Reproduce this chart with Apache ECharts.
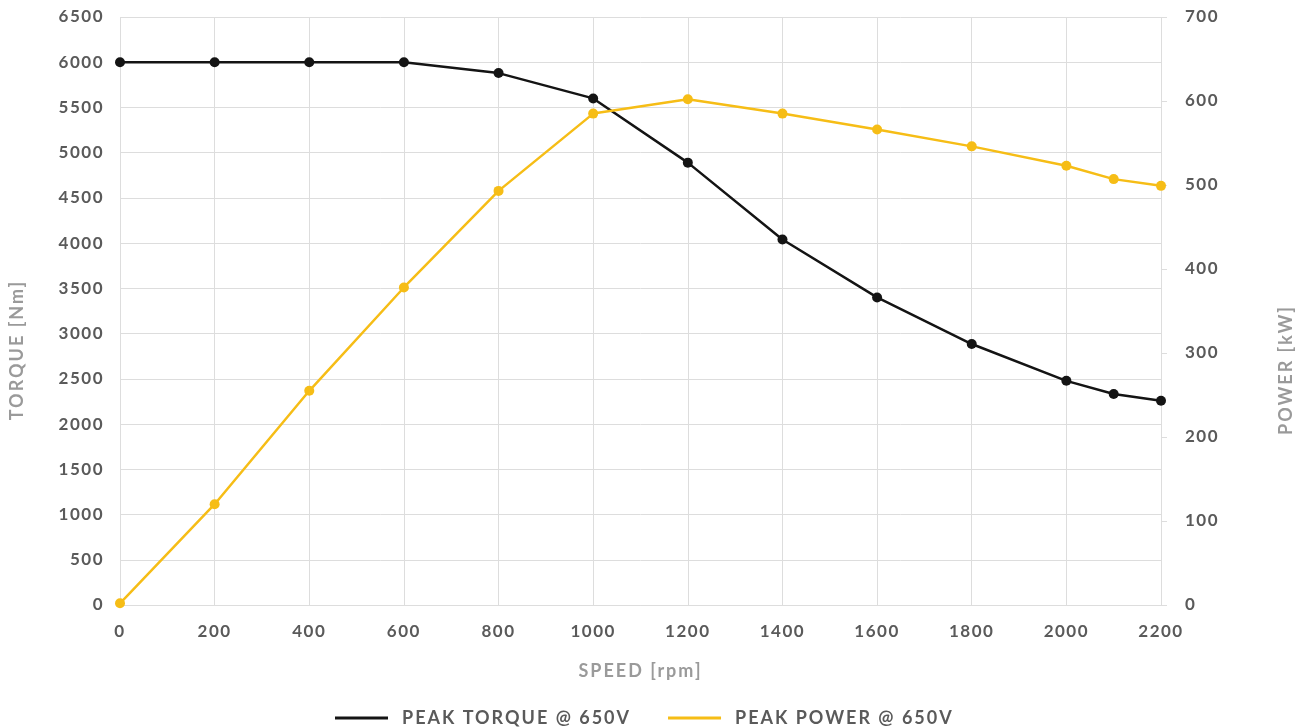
<!DOCTYPE html>
<html><head><meta charset="utf-8">
<script src="https://cdn.jsdelivr.net/npm/echarts@6/dist/echarts.min.js"></script>
<style>html,body{margin:0;padding:0;background:#fff}#c{width:1305px;height:728px}</style>
</head><body><div id="c"></div>
<script>
const speed = [0, 200, 400, 600, 800, 1000, 1200, 1400, 1600, 1800, 2000, 2100, 2200];
const torque = [6000, 6000, 6000, 6000, 5880, 5600, 4890, 4040, 3400, 2885, 2478, 2332, 2257];
const power = [2, 120, 255, 378, 493, 585, 602, 585, 566, 546, 523, 507, 499];
const seriesNames = ['PEAK TORQUE @ 650V', 'PEAK POWER @ 650V'];
const colors = ['#141414', '#f6bd16'];

// letter spacing for canvas text (tracking as in the reference)
(function () {
  const proto = CanvasRenderingContext2D.prototype;
  const desc = Object.getOwnPropertyDescriptor(proto, 'font');
  if (!desc || !('letterSpacing' in proto)) return;
  Object.defineProperty(proto, 'font', {
    configurable: true,
    get() { return desc.get.call(this); },
    set(v) {
      desc.set.call(this, v);
      this.letterSpacing = /18px/.test(v) ? '2px' : (/17px/.test(v) ? '1.5px' : '0px');
    }
  });
})();

const chart = echarts.init(document.getElementById('c'));
const labelStyle = {color: '#5a5a5a', fontFamily: 'Lato', fontWeight: 'bold', fontSize: 17};
const nameStyle = {color: '#9a9a9a', fontFamily: 'Lato', fontWeight: 'bold', fontSize: 18};
chart.setOption({
  animation: false,
  color: colors,
  grid: {left: 120, right: 144, top: 17, bottom: 123, containLabel: false, outerBoundsMode: 'none'},
  legend: {
    top: 703, left: 330, itemWidth: 53, itemHeight: 3, itemGap: 37,
    icon: 'rect',
    textStyle: {color: '#5a5a5a', fontFamily: 'Lato', fontWeight: 'bold', fontSize: 18, padding: [0, 0, 0, 9]},
    data: seriesNames
  },
  xAxis: {
    type: 'value', min: 0, max: 2200, interval: 200,
    name: 'SPEED [rpm]', nameLocation: 'middle', nameGap: 56, nameTextStyle: nameStyle,
    axisLine: {show: true, lineStyle: {color: '#dddddd'}},
    axisTick: {show: false},
    axisLabel: Object.assign({margin: 17, formatter: v => String(v)}, labelStyle),
    splitLine: {show: true, lineStyle: {color: '#dddddd'}}
  },
  yAxis: [{
    type: 'value', min: 0, max: 6500, interval: 500, position: 'left',
    name: 'TORQUE [Nm]', nameLocation: 'middle', nameGap: 93,
    nameTextStyle: Object.assign({padding: [0, 78, 0, 0]}, nameStyle),
    axisLine: {show: false}, axisTick: {show: false},
    axisLabel: Object.assign({margin: 16, formatter: v => String(v)}, labelStyle),
    splitLine: {show: true, lineStyle: {color: '#dddddd'}}
  }, {
    type: 'value', min: 0, max: 700, interval: 100, position: 'right',
    name: 'POWER [kW]', nameLocation: 'middle', nameGap: 115, nameRotate: 90,
    nameTextStyle: Object.assign({padding: [0, 118, 0, 0]}, nameStyle),
    axisLine: {show: false},
    axisTick: {show: true, length: 6, lineStyle: {color: '#dddddd'}},
    axisLabel: Object.assign({margin: 24, formatter: v => String(v)}, labelStyle),
    splitLine: {show: false}
  }],
  series: [{
    name: seriesNames[0], type: 'line', yAxisIndex: 0,
    data: speed.map((s, i) => [s, torque[i]]),
    symbol: 'circle', symbolSize: 10, lineStyle: {width: 2.5, color: colors[0]},
    itemStyle: {color: colors[0]}
  }, {
    name: seriesNames[1], type: 'line', yAxisIndex: 1,
    data: speed.map((s, i) => [s, power[i]]),
    symbol: 'circle', symbolSize: 10, lineStyle: {width: 2.5, color: colors[1]},
    itemStyle: {color: colors[1]}
  }]
});
</script></body></html>
